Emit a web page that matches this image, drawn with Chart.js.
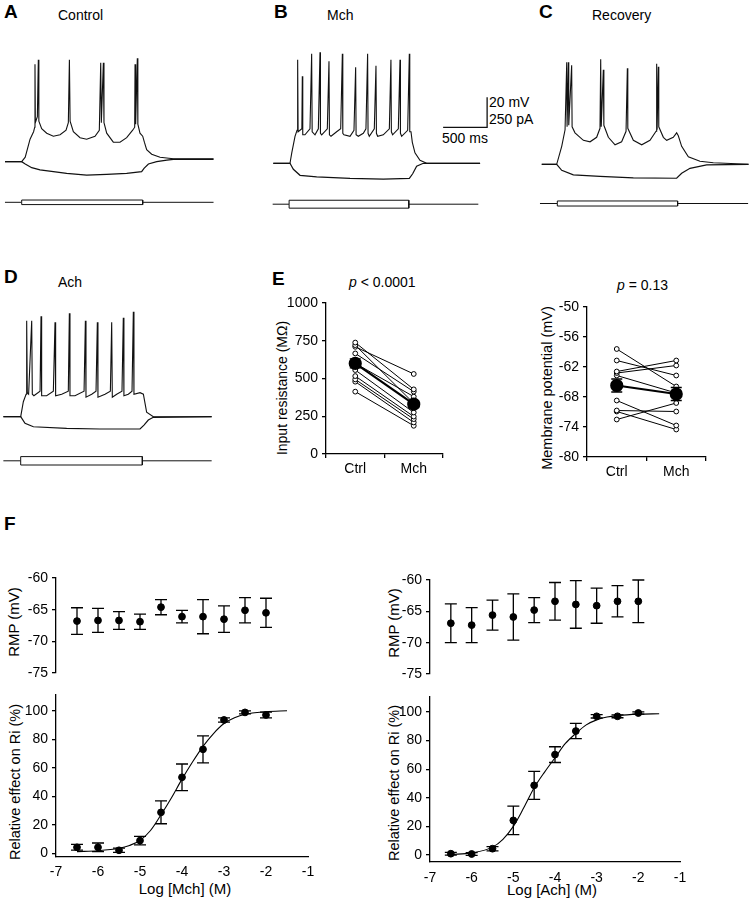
<!DOCTYPE html>
<html>
<head>
<meta charset="utf-8">
<script src="https://cdn.jsdelivr.net/npm/chart.js@4.4.0/dist/chart.umd.min.js"></script>
<style>
html, body { margin: 0; padding: 0; background: #fff; }
#fig { position: relative; width: 751px; height: 899px; background: #fff; overflow: hidden;
       font-family: 'Liberation Sans', Arial, sans-serif; color: #000; }
#fig canvas { position: absolute; }
.t  { position: absolute; font-size: 14px; line-height: 14px; white-space: nowrap; }
.pl { position: absolute; font-size: 19px; line-height: 19px; font-weight: 900; }
.vt { position: absolute; font-size: 14.5px; line-height: 15px; white-space: nowrap;
      transform: translate(-50%, -50%) rotate(-90deg); }
.ht { position: absolute; font-size: 15px; line-height: 15px; white-space: nowrap; transform: translateX(-50%); }
</style>
</head>
<body>
<div id="fig">
  <div class="pl" style="left:4px;top:2px">A</div>
  <div class="t" style="left:58px;top:8px">Control</div>
  <div class="pl" style="left:274px;top:2px">B</div>
  <div class="t" style="left:327px;top:8px">Mch</div>
  <div class="pl" style="left:539px;top:2px">C</div>
  <div class="t" style="left:592px;top:8px">Recovery</div>
  <div class="t" style="left:489px;top:95px">20 mV</div>
  <div class="t" style="left:489px;top:112px">250 pA</div>
  <div class="t" style="left:442px;top:131px">500 ms</div>

  <div class="pl" style="left:4px;top:267px">D</div>
  <div class="t" style="left:58px;top:275px">Ach</div>
  <div class="pl" style="left:272px;top:269px">E</div>
  <div class="t" style="left:349px;top:275px"><i>p</i> &lt; 0.0001</div>
  <div class="t" style="left:617px;top:278px"><i>p</i> = 0.13</div>
  <div class="vt" style="left:282px;top:388px;font-size:14px">Input resistance (MΩ)</div>
  <div class="vt" style="left:547px;top:388px">Membrane potential (mV)</div>

  <div class="pl" style="left:4px;top:514px">F</div>
  <div class="vt" style="left:13px;top:622px;font-size:15px">RMP (mV)</div>
  <div class="vt" style="left:15px;top:782px">Relative effect on Ri (%)</div>
  <div class="vt" style="left:393px;top:623px;font-size:15px">RMP (mV)</div>
  <div class="vt" style="left:394px;top:783px">Relative effect on Ri (%)</div>
  <div class="ht" style="left:185px;top:881px">Log [Mch] (M)</div>
  <div class="ht" style="left:552px;top:882px">Log [Ach] (M)</div>
</div>

<script>
// ══════════════════════════════════════
// DATA
// traces: [time ms, membrane potential mV]
// ══════════════════════════════════════
const REST_MV = -65;

const ctrlDep = [[-190,-65],[0,-65],[40,-62],[95,-50],[135,-45],[148,-42],[151,0],[155,-39],[178,-35],[189,3],[195,-38],[227,-43],[284,-46],[360,-48],[436,-47],[504,-44],[530,-39],[542,3],[550,-38],[587,-45],[663,-49],[738,-50],[833,-48],[882,-44],[898,1],[905,-39],[928,1],[935,-39],[966,-46],[1041,-52],[1117,-52],[1193,-49],[1261,-44],[1284,-42],[1288,0],[1295,-40],[1314,4],[1320,-40],[1344,-46],[1375,-48],[1394,-52],[1420,-57],[1477,-60],[1572,-62],[1723,-63],[2180,-63]];
const ctrlHyp = [[-190,-65],[0,-65],[40,-66.5],[114,-69],[208,-70.5],[360,-71.6],[511,-72.8],[738,-74],[965,-73.4],[1193,-72.8],[1363,-71.6],[1390,-69.4],[1440,-66.5],[1534,-65],[1650,-64],[1723,-63.5],[2180,-63.5]];

const mchDep = [[-190,-65],[0,-65],[20,-58],[57,-47],[80,-43],[87,4],[92,-44],[102,-44],[135,-42],[140,-7],[145,-46],[170,-46],[227,-42],[246,8],[252,-44],[284,-46],[322,-42],[341,9],[346,-45],[360,-46],[424,-42],[443,3],[448,-46],[466,-47],[530,-44],[576,-42],[595,8],[600,-45],[613,-46],[682,-47],[727,-43],[746,-1],[751,-46],[776,-47],[833,-45],[863,-42],[882,8],[887,-45],[901,-47],[958,-42],[977,0],[982,-45],[996,-47],[1060,-46],[1129,-42],[1147,4],[1152,-44],[1166,-46],[1231,-42],[1250,4],[1255,-45],[1269,-47],[1337,-43],[1356,8],[1361,-44],[1375,-44],[1390,-51],[1420,-58],[1477,-63],[1553,-65],[2160,-65]];
const mchHyp = [[-190,-65],[0,-65],[38,-69],[114,-73],[303,-74],[682,-75],[1060,-75.5],[1356,-75],[1394,-72],[1439,-67],[1515,-65],[2160,-65]];

const recDep = [[-170,-65],[0,-65],[57,-53],[95,-42],[114,3],[118,-40],[133,3],[137,-39],[170,1],[175,-40],[208,-44],[303,-49],[379,-50],[454,-47],[492,-41],[500,5],[506,-40],[530,-2],[536,-39],[587,-47],[663,-52],[738,-50],[788,-43],[803,-1],[808,-41],[871,-49],[966,-52],[1060,-49],[1129,-43],[1136,2],[1141,-42],[1155,0],[1160,-40],[1212,-47],[1250,-49],[1325,-47],[1363,-44],[1382,-46],[1420,-53],[1496,-60],[1628,-63],[1780,-64],[2180,-65]];
const recHyp = [[-170,-65],[0,-65],[57,-69],[189,-72],[492,-73],[871,-74],[1363,-74.3],[1420,-71],[1515,-67.7],[1704,-65.4],[2180,-65]];

const achDep = [[-197,-65],[0,-65],[30,-55],[61,-50],[68,-1],[75,-49],[90,-50],[125,-1],[132,-50],[150,-51],[220,-48],[231,2],[238,-51],[295,-51],[371,-48],[390,-2],[397,-51],[466,-50],[541,-48],[553,4],[560,-51],[617,-51],[720,-48],[735,-1],[742,-52],[807,-50],[856,-48],[871,-2],[878,-52],[958,-50],[1019,-48],[1034,-2],[1041,-52],[1091,-50],[1151,-48],[1166,1],[1173,-51],[1223,-50],[1265,-48],[1280,5],[1287,-50],[1356,-49],[1394,-50],[1431,-62],[1507,-65],[2170,-65]];
const achHyp = [[-197,-65],[0,-65],[49,-69.4],[144,-71.7],[522,-72.8],[901,-73.2],[1356,-73.2],[1401,-70.6],[1450,-67.2],[1507,-65.4],[2170,-65]];

// injected current: [trace start ms, step on ms, step off ms, trace end ms, amplitude pA]
const ctrlStim = [-190, 0, 1375, 2180, 19];
const mchStim  = [-197, -10, 1350, 2140, 33];
const recStim  = [-190, 7, 1374, 2175, 21];
const achStim  = [-197, 0, 1382, 2170, 35];

// scale bar (ms, mV), corner position in panel B units
const scaleBarMs = 500, scaleBarMv = 20, scaleBarCorner = [2240, -41];

// E: input resistance (MΩ) and membrane potential (mV), paired Ctrl → Mch
const groups = ['Ctrl', 'Mch'];
const riCtrl = [738, 721, 710, 666, 600, 556, 516, 494, 479, 413];
const riMch  = [428, 336, 530, 413, 380, 275, 248, 231, 209, 187];
const riMean = [600, 330], riSem = [30, 22];

const vmCtrl = [-58.4, -60.7, -62.9, -63.2, -63.7, -68.7, -70.7, -70.9, -72.5];
const vmMch  = [-65.9, -63.7, -60.7, -61.7, -67.2, -73.7, -70.9, -74.5, -69.2];
const vmMean = [-65.7, -67.4], vmSem = [1.3, 1.3];

// F: dose-response
const logConc   = [-6.5, -6, -5.5, -5, -4.5, -4, -3.5, -3, -2.5, -2];
const mchRmp    = [-66.8, -66.7, -66.7, -66.9, -64.6, -66.1, -66.1, -66.5, -65.1, -65.5];
const mchRmpErr = [2.1, 1.9, 1.4, 1.2, 1.2, 1.0, 2.7, 2.1, 2.0, 2.3];
const mchRi     = [4.2, 4.2, 2.1, 8.9, 28.7, 53.3, 72.9, 93.5, 98.8, 97];
const mchRiErr  = [2, 3, 1.5, 3, 8, 9.3, 9.5, 1.5, 1, 2];
const achRmp    = [-66.9, -67.2, -65.6, -65.9, -64.8, -63.4, -63.9, -64.1, -63.4, -63.4];
const achRmpErr = [3.1, 2.8, 2.4, 3.7, 2.0, 3.0, 3.8, 2.8, 2.5, 3.4];
const achRi     = [0.9, 0.7, 4.4, 24.2, 48.7, 70.2, 86.7, 97, 97, 99.3];
const achRiErr  = [1, 1, 1.5, 10, 9.8, 5.5, 5.3, 1.2, 1, 0.8];
// fitted curves, read at these log concentrations
const fitLog   = [-6.5, -6, -5.5, -5.25, -5, -4.75, -4.5, -4.25, -4, -3.75, -3.5, -3.25, -3, -2.75, -2.5, -2, -1.5];
const mchFit   = [1.2, 1.8, 3.5, 5.5, 9, 16, 27, 39, 52, 64, 75, 84, 91, 95, 97.5, 99.3, 100];
const achFit   = [0.3, 1.5, 5.5, 11, 20, 33, 47, 58, 68, 78, 85, 91, 94.5, 96.5, 97.5, 98.5, 98.8];
const logTicks = [-7, -6, -5, -4, -3, -2, -1];
const rmpTicks = [-75, -70, -65, -60];
const riPctTicks = [0, 20, 40, 60, 80, 100];

// ══════════════════════════════════════
// SETUP
// ══════════════════════════════════════
Chart.defaults.font.family = "'Liberation Sans', Arial, sans-serif";
Chart.defaults.font.size = 14;
Chart.defaults.color = '#000';
Chart.defaults.animation = false;
Chart.defaults.responsive = false;
Chart.defaults.events = [];
Chart.defaults.plugins.legend.display = false;
Chart.defaults.plugins.tooltip.enabled = false;

const MS_PER_PX = 500 / 44, PX_PER_MV = 30 / 20, PX_PER_PA = 30 / 250;
const INK = '#000';

const errorBars = {
  id: 'errorBars',
  afterDatasetsDraw(chart) {
    const ctx = chart.ctx;
    chart.data.datasets.forEach((ds, i) => {
      if (!ds.errorBars) return;
      const meta = chart.getDatasetMeta(i);
      const ys = chart.scales[meta.yAxisID];
      ctx.save();
      ctx.strokeStyle = INK;
      ctx.lineWidth = 1.3;
      meta.data.forEach((pt, j) => {
        const d = ds.data[j];
        const v = typeof d === 'object' ? d.y : d;
        const e = ds.errorBars[j], cap = ds.capHalf || 5;
        const top = ys.getPixelForValue(v + e), bot = ys.getPixelForValue(v - e);
        ctx.beginPath();
        ctx.moveTo(pt.x, top); ctx.lineTo(pt.x, bot);
        ctx.moveTo(pt.x - cap, top); ctx.lineTo(pt.x + cap, top);
        ctx.moveTo(pt.x - cap, bot); ctx.lineTo(pt.x + cap, bot);
        ctx.stroke();
      });
      ctx.restore();
    });
  }
};

function addCanvas(l, t, w, h) {
  const c = document.createElement('canvas');
  c.width = w; c.height = h;
  c.style.left = l + 'px'; c.style.top = t + 'px';
  document.getElementById('fig').appendChild(c);
  return c;
}

const toXY = pairs => pairs.map(([x, y]) => ({ x, y }));

function stimPath([start, on, off, end, amp]) {
  return [
    { x: start, y: 0 }, { x: on, y: 0 }, { x: on, y: amp }, { x: off, y: amp },
    { x: off, y: -amp }, { x: on, y: -amp }, { x: on, y: 0 }, { x: (on + off) / 2, y: null },
    { x: off, y: 0 }, { x: end, y: 0 },
  ];
}

// page geometry of a trace panel -> scale limits in ms / mV / pA
function tracePanel(p, dep, hyp, stim, extra) {
  const l = p.left, t = p.top, w = p.right - p.left, h = p.bottom - p.top;
  const cv = addCanvas(l, t, w, h);
  const line = (data, axis, width) => ({ data, yAxisID: axis, borderColor: '#111', borderWidth: width,
                                          pointRadius: 0, tension: 0, spanGaps: false });
  const datasets = [line(toXY(dep), 'y', 1.1), line(toXY(hyp), 'y', 1.2), line(stimPath(stim), 'yI', 1)];
  if (extra) datasets.push(line(extra, 'y', 1.3));
  new Chart(cv, {
    type: 'line',
    data: { datasets },
    options: {
      layout: { padding: 0 },
      scales: {
        x:  { type: 'linear', display: false, min: (l - p.stepX) * MS_PER_PX, max: (l + w - p.stepX) * MS_PER_PX },
        y:  { type: 'linear', display: false, min: REST_MV - (t + h - p.baseY) / PX_PER_MV, max: REST_MV + (p.baseY - t) / PX_PER_MV },
        yI: { type: 'linear', display: false, min: -(t + h - p.stimY) / PX_PER_PA, max: (p.stimY - t) / PX_PER_PA },
      },
    },
  });
}

const fix = size => (s => {
  if (s.isHorizontal()) s.height = size; else s.width = size;
  s.paddingLeft = s.paddingRight = s.paddingTop = s.paddingBottom = 0;
});
const setTicks = vals => (s => { s.ticks = vals.map(value => ({ value })); });
const plain = v => String(v);

function axis(extra) {
  return Object.assign({
    border: { display: true, color: INK, width: 1.3 },
    grid: { display: true, drawOnChartArea: false, drawTicks: true, tickLength: 4, color: INK, lineWidth: 1.3 },
    ticks: { padding: 4, color: INK, callback: plain },
  }, extra);
}

// area = chart area in page px; yW / xH = axis box sizes
function axesChart(area, yW, xH, padT, padR, padB, config) {
  const l = Math.round(area.l - yW), t = Math.round(area.t - padT);
  const w = Math.round(area.r - area.l + yW + padR), h = Math.round(area.b - area.t + padT + xH + padB);
  const cv = addCanvas(l, t, w, h);
  config.options.layout = { padding: { top: padT, right: padR, bottom: padB, left: 0 } };
  config.plugins = [errorBars];
  return new Chart(cv, config);
}

// ══════════════════════════════════════
// A–D  current-clamp traces
// ══════════════════════════════════════
tracePanel({ left: 2, right: 218, top: 48, bottom: 212, stepX: 21.7, baseY: 161.7, stimY: 202.3 }, ctrlDep, ctrlHyp, ctrlStim);
tracePanel({ left: 270, right: 540, top: 48, bottom: 212, stepX: 290, baseY: 163.3, stimY: 204.2 }, mchDep, mchHyp, mchStim,
  [{ x: scaleBarCorner[0] - scaleBarMs, y: scaleBarCorner[1] }, { x: scaleBarCorner[0], y: scaleBarCorner[1] },
   { x: scaleBarCorner[0], y: scaleBarCorner[1] + scaleBarMv }]);
tracePanel({ left: 538, right: 751, top: 48, bottom: 212, stepX: 556.7, baseY: 164.3, stimY: 203.5 }, recDep, recHyp, recStim);
tracePanel({ left: 2, right: 218, top: 300, bottom: 472, stepX: 20.7, baseY: 416.7, stimY: 460.8 }, achDep, achHyp, achStim);

// ══════════════════════════════════════
// E  paired comparisons
// ══════════════════════════════════════
function pairedChart(area, yW, ctrl, mch, mean, sem, yMin, yMax, step) {
  const pairs = ctrl.map((c, i) => ({
    data: [c, mch[i]], borderColor: INK, borderWidth: 1, pointRadius: 2.4,
    pointBackgroundColor: '#fff', pointBorderColor: INK, pointBorderWidth: 1,
  }));
  const meanDs = { data: mean, errorBars: sem, capHalf: 5.5, borderColor: INK, borderWidth: 2.2,
                   pointRadius: 5.5, pointBackgroundColor: INK, pointBorderColor: INK };
  axesChart(area, yW, 25, 10, 12, 0, {
    type: 'line',
    data: { labels: groups, datasets: [meanDs, ...pairs] },
    options: {
      scales: {
        x: axis({ type: 'category', offset: true, afterFit: fix(25),
                  grid: { display: true, offset: true, drawOnChartArea: false, drawTicks: true, tickLength: 4, color: INK, lineWidth: 1.3 },
                  ticks: { padding: 3, color: INK, font: { size: 14 } } }),
        y: axis({ type: 'linear', min: yMin, max: yMax, afterFit: fix(yW),
                  ticks: { padding: 4, color: INK, stepSize: step, callback: plain } }),
      },
    },
  });
}
pairedChart({ l: 326, r: 443, t: 303, b: 454 }, 60, riCtrl, riMch, riMean, riSem, 0, 1000, 250);
pairedChart({ l: 587, r: 706, t: 307, b: 457 }, 55, vmCtrl, vmMch, vmMean, vmSem, -80, -50, 6);

// ══════════════════════════════════════
// F  dose-response
// ══════════════════════════════════════
const pts = (ys) => logConc.map((x, i) => ({ x, y: ys[i] }));

function rmpChart(area, yW, vals, errs) {
  axesChart(area, yW, 0, 10, 14, 9, {
    type: 'line',
    data: { datasets: [{ data: pts(vals), errorBars: errs, capHalf: 6, showLine: false,
                         pointRadius: 3.4, pointBackgroundColor: INK, pointBorderColor: INK }] },
    options: {
      scales: {
        x: { type: 'linear', display: false, min: -7, max: -1 },
        y: axis({ type: 'linear', min: -75, max: -60, afterFit: fix(yW), afterBuildTicks: setTicks(rmpTicks) }),
      },
    },
  });
}

function doseChart(area, yW, xH, tickPad, vals, errs, fit, yMin, yMax) {
  axesChart(area, yW, xH, 10, 14, 0, {
    type: 'line',
    data: { datasets: [
      { data: pts(vals), errorBars: errs, capHalf: 6, showLine: false,
        pointRadius: 3.4, pointBackgroundColor: INK, pointBorderColor: INK },
      { data: fitLog.map((x, i) => ({ x, y: fit[i] })), borderColor: INK, borderWidth: 1.1,
        pointRadius: 0, cubicInterpolationMode: 'monotone' },
    ] },
    options: {
      scales: {
        x: axis({ type: 'linear', min: -7, max: -1, afterFit: fix(xH), afterBuildTicks: setTicks(logTicks),
                  grid: { display: false, drawTicks: false },
                  ticks: { padding: tickPad, color: INK, font: { size: 14 }, callback: plain } }),
        y: axis({ type: 'linear', min: yMin, max: yMax, afterFit: fix(yW), afterBuildTicks: setTicks(riPctTicks) }),
      },
    },
  });
}

rmpChart({ l: 56, r: 308, t: 578.3, b: 673.3 }, 56, mchRmp, mchRmpErr);
doseChart({ l: 56, r: 308, t: 695, b: 857 }, 56, 42, 7, mchRi, mchRiErr, mchFit, -2.6, 111);
rmpChart({ l: 430, r: 680, t: 580, b: 674.3 }, 48, achRmp, achRmpErr);
doseChart({ l: 430, r: 680, t: 696.7, b: 861.7 }, 48, 37, 8, achRi, achRiErr, achFit, -4.9, 110.5);
</script>
</body>
</html>
